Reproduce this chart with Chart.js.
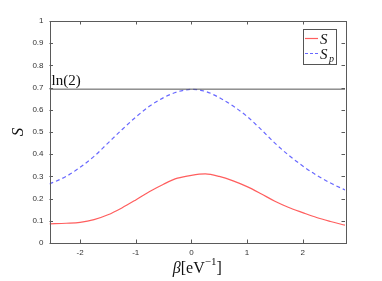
<!DOCTYPE html>
<html>
<head>
<meta charset="utf-8">
<script src="https://cdn.jsdelivr.net/npm/chart.js@4/dist/chart.umd.min.js"></script>
<style>
  html, body { margin: 0; padding: 0; background: #fff; }
  #wrap { width: 382px; height: 281px; position: relative; }
</style>
</head>
<body>
<div id="wrap"><canvas id="entropyChart"></canvas></div>
<script>
// data
const beta = [-2.55, -2.25, -2, -1.75, -1.5, -1.25, -1, -0.75, -0.5, -0.25, 0,
  0.25, 0.5, 0.75, 1, 1.25, 1.5, 1.75, 2, 2.25, 2.5, 2.76];
const entropyS = [0.086, 0.089, 0.093, 0.105, 0.127, 0.158, 0.194, 0.232, 0.265, 0.292, 0.305,
  0.311, 0.300, 0.280, 0.254, 0.222, 0.188, 0.160, 0.137, 0.115, 0.097, 0.080];
const entropySp = [0.266, 0.300, 0.341, 0.390, 0.450, 0.510, 0.567, 0.617, 0.655, 0.681, 0.692,
  0.683, 0.655, 0.617, 0.570, 0.512, 0.450, 0.395, 0.347, 0.305, 0.270, 0.239];
const lnTwo = 0.693;
const xTicks = [-2, -1, 0, 1, 2];
const xTickLabels = ["-2", "-1", "0", "1", "2"];
const yTicks = [0, 0.1, 0.2, 0.3, 0.4, 0.5, 0.6, 0.7, 0.8, 0.9, 1];
const yTickLabels = ["0", "0.1", "0.2", "0.3", "0.4", "0.5", "0.6", "0.7", "0.8", "0.9", "1"];

const xMin = -2.55, xMax = 2.76;
const axisColor = "#5a5a5a";
const redLine = "rgba(255, 40, 40, 0.75)";
const blueLine = "rgba(40, 40, 255, 0.7)";
const serif = "'Liberation Serif', 'DejaVu Serif', serif";

const framePlugin = {
  id: "frame",
  afterDraw(chart) {
    const ctx = chart.ctx;
    const a = chart.chartArea;
    const xs = chart.scales.x, ys = chart.scales.y;
    ctx.save();
    ctx.strokeStyle = axisColor;
    ctx.lineWidth = 1;
    ctx.strokeRect(Math.round(a.left) + 0.5, Math.round(a.top) + 0.5,
      Math.round(a.right - a.left), Math.round(a.bottom - a.top));
    // inward ticks on all four sides
    const tl = 3.5;
    ctx.beginPath();
    xTicks.forEach(v => {
      const px = Math.round(xs.getPixelForValue(v)) + 0.5;
      ctx.moveTo(px, a.bottom); ctx.lineTo(px, a.bottom - tl);
      ctx.moveTo(px, a.top); ctx.lineTo(px, a.top + tl);
    });
    yTicks.forEach(v => {
      const py = Math.round(ys.getPixelForValue(v)) + 0.5;
      ctx.moveTo(a.left, py); ctx.lineTo(a.left + tl, py);
      ctx.moveTo(a.right, py); ctx.lineTo(a.right - tl, py);
    });
    ctx.stroke();

    // ln(2) label
    ctx.fillStyle = "#111";
    ctx.font = "15px " + serif;
    ctx.textBaseline = "alphabetic";
    ctx.textAlign = "left";
    ctx.fillText("ln(2)", a.left + 2, ys.getPixelForValue(lnTwo) - 4);

    // y title
    ctx.save();
    ctx.translate(19, (a.top + a.bottom) / 2);
    ctx.rotate(-Math.PI / 2);
    ctx.font = "italic 17px " + serif;
    ctx.textAlign = "center";
    ctx.textBaseline = "middle";
    ctx.fillText("S", 0, 0);
    ctx.restore();

    // x title: β[eV^-1]
    const parts = [
      { t: "β", f: "italic 16px " + serif, dy: 0 },
      { t: "[eV", f: "16px " + serif, dy: 0 },
      { t: "−1", f: "11px " + serif, dy: -8 },
      { t: "]", f: "16px " + serif, dy: 0 }
    ];
    let total = 0;
    parts.forEach(p => { ctx.font = p.f; p.w = ctx.measureText(p.t).width; total += p.w; });
    let x0 = (a.left + a.right) / 2 - total / 2;
    parts.forEach(p => {
      ctx.font = p.f;
      ctx.fillText(p.t, x0, 273 + p.dy);
      x0 += p.w;
    });

    // legend
    const bx = 303.5, by = 29.5, bw = 33, bh = 35;
    ctx.fillStyle = "#fff";
    ctx.fillRect(bx, by, bw, bh);
    ctx.strokeStyle = "#555";
    ctx.strokeRect(bx, by, bw, bh);
    ctx.lineWidth = 1.2;
    ctx.strokeStyle = redLine;
    ctx.beginPath(); ctx.moveTo(305, 38.5); ctx.lineTo(318, 38.5); ctx.stroke();
    ctx.strokeStyle = blueLine;
    ctx.setLineDash([3, 2]);
    ctx.beginPath(); ctx.moveTo(305, 53.5); ctx.lineTo(318, 53.5); ctx.stroke();
    ctx.setLineDash([]);
    ctx.fillStyle = "#111";
    ctx.font = "italic 15px " + serif;
    ctx.fillText("S", 320, 43.5);
    ctx.fillText("S", 320, 58.5);
    ctx.font = "italic 10px " + serif;
    ctx.fillText("p", 329, 61.5);
    ctx.restore();
  }
};

const pts = arr => beta.map((b, i) => ({ x: b, y: arr[i] }));

new Chart(document.getElementById("entropyChart").getContext("2d"), {
  type: "line",
  data: {
    datasets: [
      {
        label: "ln(2)",
        data: [{ x: xMin, y: lnTwo }, { x: xMax, y: lnTwo }],
        borderColor: "#555",
        borderWidth: 1,
        pointRadius: 0
      },
      {
        label: "S",
        data: pts(entropyS),
        borderColor: redLine,
        borderWidth: 1.2,
        pointRadius: 0,
        cubicInterpolationMode: "monotone"
      },
      {
        label: "Sp",
        data: pts(entropySp),
        borderColor: blueLine,
        borderWidth: 1.2,
        borderDash: [4, 3],
        pointRadius: 0,
        cubicInterpolationMode: "monotone"
      }
    ]
  },
  options: {
    responsive: true,
    maintainAspectRatio: false,
    animation: false,
    layout: { padding: { left: 0, top: 21, right: 37, bottom: 0 } },
    plugins: { legend: { display: false }, tooltip: { enabled: false } },
    scales: {
      x: {
        type: "linear",
        min: xMin,
        max: xMax,
        afterBuildTicks: s => { s.ticks = xTicks.map(v => ({ value: v })); },
        afterFit: s => { s.height = 38; },
        grid: { display: false, drawTicks: false },
        border: { display: false },
        ticks: {
          padding: 5,
          color: "#333",
          font: { family: "'Liberation Sans', Arial, sans-serif", size: 8 },
          maxRotation: 0,
          callback: v => xTickLabels[xTicks.indexOf(v)]
        }
      },
      y: {
        min: 0,
        max: 1,
        afterBuildTicks: s => { s.ticks = yTicks.map(v => ({ value: v })); },
        afterFit: s => { s.width = 49.5; },
        grid: { display: false, drawTicks: false },
        border: { display: false },
        ticks: {
          padding: 6,
          color: "#333",
          font: { family: "'Liberation Sans', Arial, sans-serif", size: 8 },
          callback: v => yTickLabels[yTicks.indexOf(v)]
        }
      }
    }
  },
  plugins: [framePlugin]
});
</script>
</body>
</html>
